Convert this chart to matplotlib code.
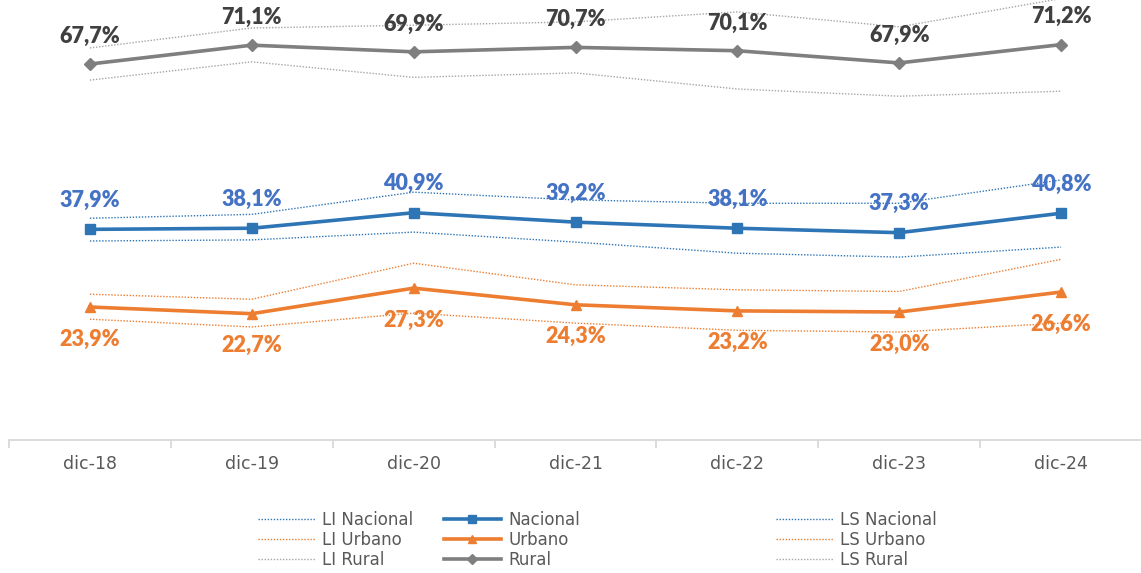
import matplotlib
matplotlib.use("Agg")
import matplotlib.pyplot as plt

categories = ["dic-18", "dic-19", "dic-20", "dic-21", "dic-22", "dic-23", "dic-24"]

nacional = [37.9, 38.1, 40.9, 39.2, 38.1, 37.3, 40.8]
li_nacional = [35.8, 36.0, 37.4, 35.6, 33.6, 32.9, 34.7]
ls_nacional = [39.9, 40.6, 44.6, 43.2, 42.6, 42.6, 46.8]

urbano = [23.9, 22.7, 27.3, 24.3, 23.2, 23.0, 26.6]
li_urbano = [21.7, 20.3, 22.8, 21.0, 19.7, 19.4, 21.0]
ls_urbano = [26.2, 25.3, 31.8, 27.9, 27.0, 26.7, 32.5]

rural = [67.7, 71.1, 69.9, 70.7, 70.1, 67.9, 71.2]
li_rural = [64.8, 68.1, 65.3, 66.1, 63.2, 61.9, 62.8]
ls_rural = [70.6, 74.2, 74.7, 75.3, 77.1, 74.4, 79.5]

C_NAC = "#2E75B6"
C_NAC_LBL = "#4472C4"
C_URB = "#ED7D31"
C_RUR = "#7F7F7F"
C_RUR_CI = "#A6A6A6"
C_RUR_LBL = "#404040"

plt.rcParams['font.family'] = ['DejaVu Sans']

fig = plt.figure(figsize=(11.41, 5.73), dpi=100)
W, H = 1141, 573
ax = fig.add_axes([9 / W, 1 - 439.6 / H, (1142 - 9) / W, (439.6 + 4.2) / H])
x = list(range(len(categories)))

ci_kw = dict(lw=1.0, ls=(0, (1, 1.2)))
h_li_n, = ax.plot(x, li_nacional, color=C_NAC, **ci_kw)
h_ls_n, = ax.plot(x, ls_nacional, color=C_NAC, **ci_kw)
h_li_u, = ax.plot(x, li_urbano, color=C_URB, **ci_kw)
h_ls_u, = ax.plot(x, ls_urbano, color=C_URB, **ci_kw)
h_li_r, = ax.plot(x, li_rural, color=C_RUR_CI, **ci_kw)
h_ls_r, = ax.plot(x, ls_rural, color=C_RUR_CI, **ci_kw)

h_n, = ax.plot(x, nacional, color=C_NAC, lw=2.6, marker="s", ms=7.5, zorder=5)
h_u, = ax.plot(x, urbano, color=C_URB, lw=2.6, marker="^", ms=7, zorder=5)
h_r, = ax.plot(x, rural, color=C_RUR, lw=2.6, marker="D", ms=6, zorder=5)

lbl_font = dict(family=['Lato', 'DejaVu Sans'], fontsize=15.5, fontweight="heavy")
def fmt(v):
    return f"{v:.1f}".replace(".", ",") + "%"

for xi, v in zip(x, rural):
    ax.annotate(fmt(v), (xi, v), xytext=(0, 20), textcoords="offset points",
                ha="center", va="center", color=C_RUR_LBL, **lbl_font)
for xi, v in zip(x, nacional):
    ax.annotate(fmt(v), (xi, v), xytext=(0, 21), textcoords="offset points",
                ha="center", va="center", color=C_NAC_LBL, zorder=6, **lbl_font)
for xi, v in zip(x, urbano):
    ax.annotate(fmt(v), (xi, v), xytext=(0, -23), textcoords="offset points",
                ha="center", va="center", color=C_URB, zorder=6, **lbl_font)

ax.set_xlim(-0.5, len(categories) - 0.5)
ax.set_ylim(0, 80)
for s in ["top", "right", "left"]:
    ax.spines[s].set_visible(False)
ax.spines["bottom"].set_color("#D9D9D9")
ax.spines["bottom"].set_linewidth(1.3)
ax.set_yticks([])
ax.set_xticks([i - 0.5 for i in range(len(categories) + 1)])
ax.set_xticklabels([])
ax.set_xticks(x, minor=True)
ax.set_xticklabels(categories, minor=True)
ax.tick_params(axis="x", which="major", length=6, color="#D9D9D9", width=1.3)
ax.tick_params(axis="x", which="minor", length=0, pad=11, labelsize=12.5, labelcolor="#595959")

leg_kw = dict(loc="upper left", frameon=False, fontsize=12, labelcolor="#595959",
              handlelength=3.4, handletextpad=0.45, labelspacing=0.12,
              borderpad=0, borderaxespad=0, markerscale=0.85)
top = 1 - 511 / H
fig.legend([h_li_n, h_li_u, h_li_r], ["LI Nacional", "LI Urbano", "LI Rural"],
           bbox_to_anchor=(258 / W, top), **leg_kw)
fig.legend([h_n, h_u, h_r], ["Nacional", "Urbano", "Rural"],
           bbox_to_anchor=(444 / W, top), **leg_kw)
fig.legend([h_ls_n, h_ls_u, h_ls_r], ["LS Nacional", "LS Urbano", "LS Rural"],
           bbox_to_anchor=(776 / W, top), **leg_kw)

fig.savefig("out.png", dpi=100)
